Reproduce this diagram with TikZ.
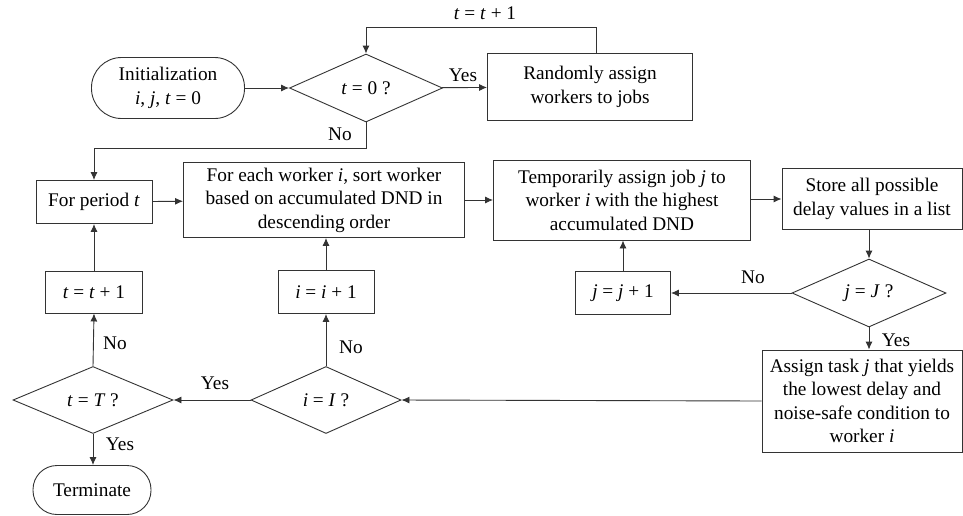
\documentclass[tikz,border=0pt]{standalone}
\usepackage{fontspec}
\setmainfont{Liberation Serif}
\usetikzlibrary{shapes.geometric,arrows.meta}
\definecolor{linec}{HTML}{333333}
\begin{document}
\begin{tikzpicture}[x=1pt,y=-1pt,
  every node/.style={font=\fontsize{19.3}{23.5}\selectfont, text=black},
  box/.style={draw=linec, line width=0.9pt, rectangle, inner sep=0pt, align=center},
  dia/.style={draw=linec, line width=0.9pt, diamond, inner sep=0pt, align=center},
  term/.style={draw=linec, line width=0.9pt, rectangle, inner sep=0pt, align=center},
  conn/.style={draw=linec, line width=0.9pt, -{Latex[length=8pt,width=7pt]}},
  plain/.style={draw=linec, line width=0.9pt},
  lab/.style={inner sep=0pt}
]
\useasboundingbox (0,0) rectangle (963,515);

% nodes
\node[term, rounded corners=30pt, minimum width=153pt, minimum height=61pt] (init) at (168,88) {Initialization\\\textit{i}, \textit{j}, \textit{t} = 0};
\node[dia, minimum width=153pt, minimum height=68pt] (d0) at (366,88) {\textit{t} = 0 ?};
\node[box, minimum width=205pt, minimum height=67pt] (rand) at (590,87) {Randomly assign\\workers to jobs};

\node[box, minimum width=116pt, minimum height=43pt] (per) at (94,202) {For period \textit{t}};
\node[box, minimum width=281pt, minimum height=75pt] (each) at (324,200) {For each worker \textit{i},  sort worker\\based on accumulated  DND in\\descending order};
\node[box, minimum width=257pt, minimum height=80pt] (temp) at (622,200) {Temporarily assign job \textit{j} to\\worker \textit{i} with the highest\\accumulated DND};
\node[box, minimum width=180pt, minimum height=61pt] (store) at (872,199) {Store all possible\\delay values in a list};

\node[box, minimum width=97pt, minimum height=42pt] (tinc) at (94,292) {\textit{t} = \textit{t} + 1};
\node[box, minimum width=96pt, minimum height=43pt] (iinc) at (326,292) {\textit{i} = \textit{i} + 1};
\node[box, minimum width=95pt, minimum height=43pt] (jinc) at (623,293) {\textit{j} = \textit{j} + 1};
\node[dia, minimum width=154pt, minimum height=68pt] (dj) at (869,293) {\textit{j} = \textit{J} ?};

\node[box, minimum width=200pt, minimum height=102pt] (assign) at (862,401) {Assign task \textit{j} that yields\\the lowest delay and\\noise-safe condition  to\\worker \textit{i}};
\node[dia, minimum width=150pt, minimum height=67pt] (di) at (326,400) {\textit{i} = \textit{I} ?};
\node[dia, minimum width=160pt, minimum height=67pt] (dt) at (93,400) {\textit{t} = \textit{T} ?};
\node[term, rounded corners=24pt, minimum width=118pt, minimum height=49pt] (end) at (92,490) {Terminate};

% connectors
\draw[conn] (init) -- (d0);
\draw[conn] (d0) -- (rand);
\draw[conn] ([xshift=6pt]rand.north) -- ++(0,-26) -| (d0.north);
\draw[conn] (d0.south) -- ++(0,26) -| (per.north);
\draw[conn] (per) -- (each);
\draw[conn] (each.east) -- (temp.west |- each.east);
\draw[conn] (temp.east |- store.west) -- (store.west);
\draw[conn] (dj.north |- store.south) -- (dj.north);
\draw[conn] (dj.west) -- (jinc.east);
\draw[conn] (jinc.north) -- (jinc.north |- temp.south);
\draw[conn] (dj.south) -- (dj.south |- assign.north);
\draw[conn] (assign.west) -- (di.east);
\draw[conn] (di.north) -- (iinc.south);
\draw[conn] (iinc.north) -- (iinc.north |- each.south);
\draw[conn] (di.west) -- (dt.east);
\draw[conn] (dt.north) -- (tinc.south);
\draw[conn] (tinc.north) -- (per.south);
\draw[conn] (dt.south) -- (dt.south |- end.north);

% labels
\node[lab] at (485,13) {\textit{t} = \textit{t} + 1};
\node[lab] at (463,75) {Yes};
\node[lab] at (340,134) {No};
\node[lab] at (753,277) {No};
\node[lab] at (896,340) {Yes};
\node[lab] at (351,347) {No};
\node[lab] at (215,383) {Yes};
\node[lab] at (115,343) {No};
\node[lab] at (120,444) {Yes};
\end{tikzpicture}
\end{document}
